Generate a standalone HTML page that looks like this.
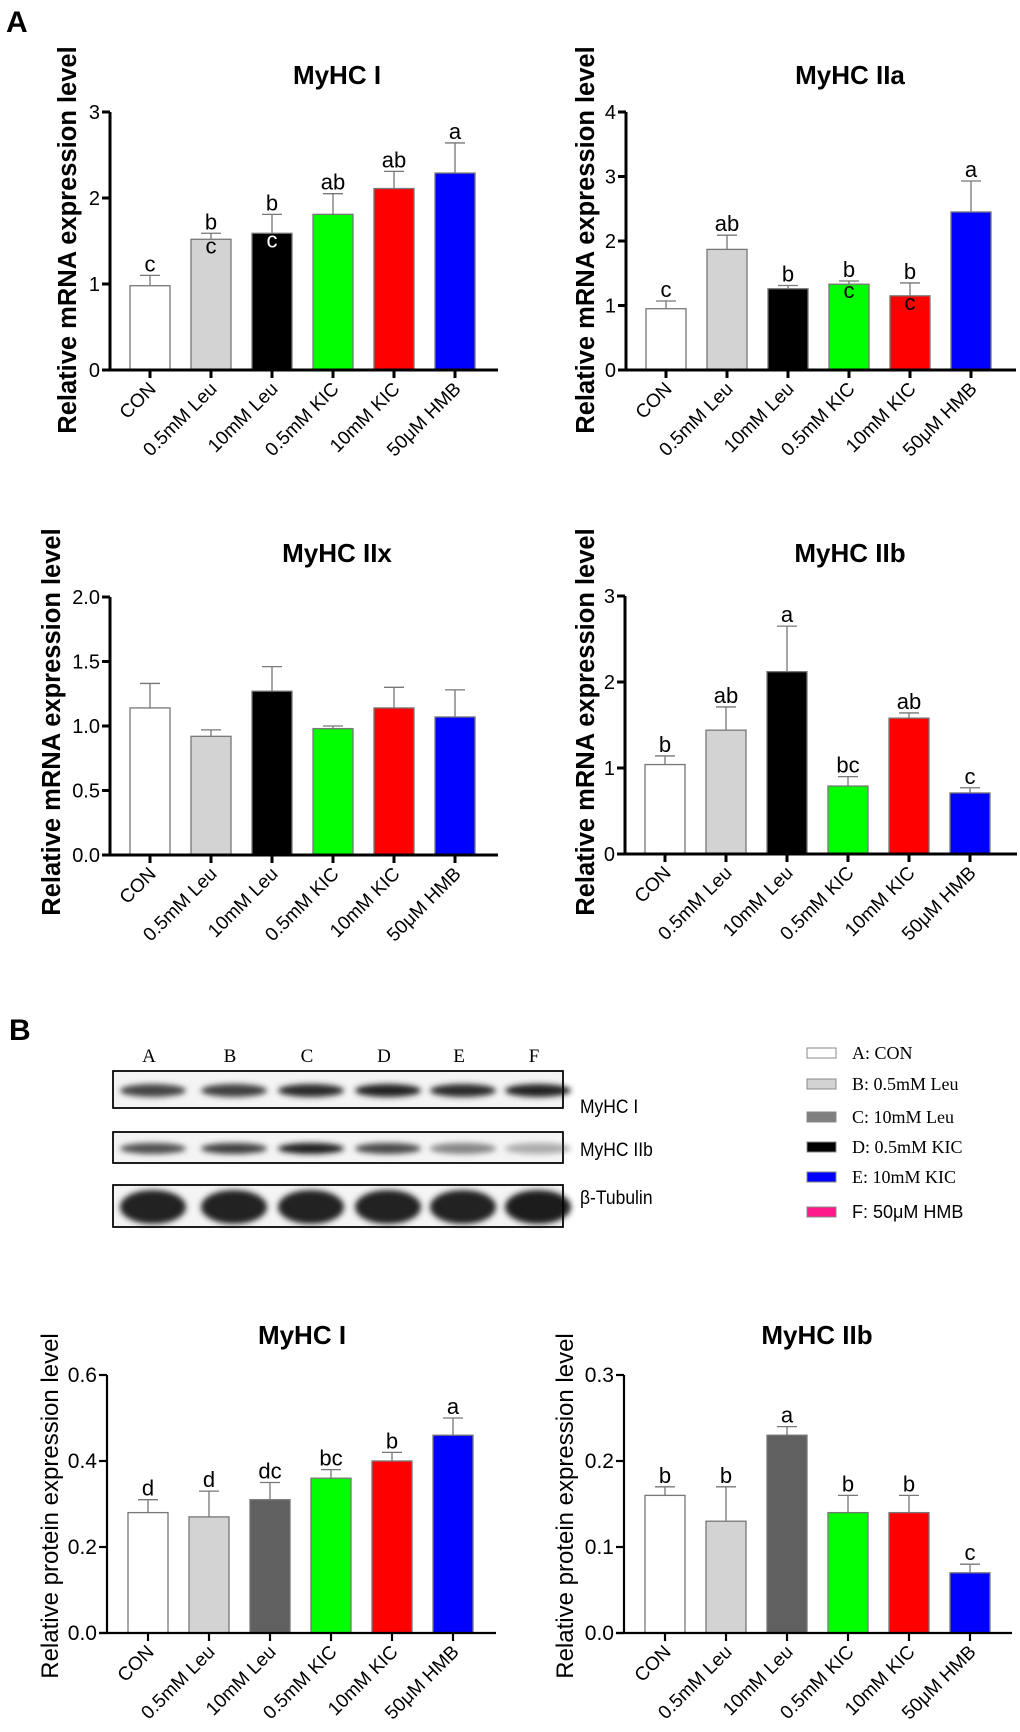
<!DOCTYPE html>
<html><head><meta charset="utf-8"><style>
html,body{margin:0;padding:0;background:#fff;}
svg{display:block;font-family:"Liberation Sans",Arial,sans-serif;}
</style></head><body>
<svg id="fig" width="1020" height="1732" viewBox="0 0 1020 1732" xmlns="http://www.w3.org/2000/svg">
<defs>
<filter id="blur" x="-30%" y="-60%" width="160%" height="220%"><feGaussianBlur stdDeviation="3"/></filter>
</defs>
<text x="6" y="32" font-size="30" font-weight="bold">A</text>
<text x="9" y="1040" font-size="30" font-weight="bold">B</text>
<g id="blot"></g>
<g id="legend"></g>
<g id="charts"></g>
</svg>
<script>
const categories = ["CON","0.5mM Leu","10mM Leu","0.5mM KIC","10mM KIC","50\u03bcM HMB"];
const colorsA = ["#ffffff","#d3d3d3","#000000","#00ff00","#ff0000","#0000ff"];
const colorsB = ["#ffffff","#d3d3d3","#606060","#00ff00","#ff0000","#0000ff"];

const myhc1Values = [0.98,1.52,1.59,1.81,2.11,2.29];
const myhc1Errors = [0.12,0.07,0.22,0.24,0.20,0.35];
const myhc1Letters = ["c","b","b","ab","ab","a"];
const myhc1Inner = ["","c","c","","",""];
const myhc1Ticks = [0,1,2,3];

const myhc2aValues = [0.95,1.87,1.26,1.33,1.15,2.45];
const myhc2aErrors = [0.12,0.22,0.05,0.05,0.20,0.48];
const myhc2aLetters = ["c","ab","b","b","b","a"];
const myhc2aInner = ["","","","c","c",""];
const myhc2aTicks = [0,1,2,3,4];

const myhc2xValues = [1.14,0.92,1.27,0.98,1.14,1.07];
const myhc2xErrors = [0.19,0.05,0.19,0.02,0.16,0.21];
const myhc2xLetters = ["","","","","",""];
const myhc2xTicks = [0,0.5,1.0,1.5,2.0];
const myhc2xTickLabels = ["0.0","0.5","1.0","1.5","2.0"];

const myhc2bValues = [1.04,1.44,2.12,0.79,1.58,0.71];
const myhc2bErrors = [0.10,0.27,0.53,0.11,0.06,0.06];
const myhc2bLetters = ["b","ab","a","bc","ab","c"];
const myhc2bTicks = [0,1,2,3];

const protIValues = [0.28,0.27,0.31,0.36,0.40,0.46];
const protIErrors = [0.03,0.06,0.04,0.02,0.02,0.04];
const protILetters = ["d","d","dc","bc","b","a"];
const protITicks = [0,0.2,0.4,0.6];
const protITickLabels = ["0.0","0.2","0.4","0.6"];

const protIIbValues = [0.16,0.13,0.23,0.14,0.14,0.07];
const protIIbErrors = [0.01,0.04,0.01,0.02,0.02,0.01];
const protIIbLetters = ["b","b","a","b","b","c"];
const protIIbTicks = [0,0.1,0.2,0.3];
const protIIbTickLabels = ["0.0","0.1","0.2","0.3"];

const laneLabels = ["A","B","C","D","E","F"];
const bandMyhcI = [0.7,0.72,0.82,0.85,0.82,0.86];
const bandMyhcIIb = [0.65,0.72,0.88,0.68,0.42,0.25];
const legendLabels = ["A: CON","B: 0.5mM Leu","C: 10mM Leu","D: 0.5mM KIC","E: 10mM KIC","F: 50\u03bcM HMB"];
const legendColors = ["#ffffff","#d3d3d3","#808080","#000000","#0000ff","#ff1a8c"];

const NS="http://www.w3.org/2000/svg";
function mk(tag,attrs,parent){const e=document.createElementNS(NS,tag);for(const k in attrs)e.setAttribute(k,attrs[k]);parent.appendChild(e);return e;}

function drawChart(cfg){
  const root=document.getElementById('charts');
  const g=mk('g',{},root);
  
  
  const max=cfg.ticks[cfg.ticks.length-1];
  const y=v=>cfg.y0-(v/max)*(cfg.y0-cfg.yTop);
  const x=i=>cfg.x0+cfg.first+i*cfg.step;
  const t=mk('text',{x:cfg.titleX,y:cfg.titleY,'font-size':26,'font-weight':'bold','text-anchor':'middle'},g);
  t.textContent=cfg.title;
  
  
  const yt=mk('text',{x:0,y:0,'font-size':cfg.ytSize,'font-weight':cfg.bold?'bold':'normal','text-anchor':'middle',transform:`translate(${cfg.ytX},${cfg.ytY}) rotate(-90)`},g);
  yt.textContent=cfg.ytitle;
  
  
  cfg.values.forEach((v,i)=>{
    const cx=x(i),top=y(v),bw=40;
    const eb=mk('g',{},g);
    
    
    const et=y(v+cfg.errors[i]);
    mk('line',{x1:cx,y1:top,x2:cx,y2:et,stroke:'#777','stroke-width':1.3},eb);
    mk('line',{x1:cx-10,y1:et,x2:cx+10,y2:et,stroke:'#777','stroke-width':1.3},eb);
    const r=mk('rect',{x:cx-bw/2,y:top,width:bw,height:cfg.y0-top,fill:cfg.colors[i],stroke:'#777','stroke-width':1.3},g);
    
    
    if(cfg.letters[i]){
      const l=mk('text',{x:cx,y:et-4,'font-size':22,'text-anchor':'middle'},g);
      l.textContent=cfg.letters[i];
      
      
    }
    if(cfg.inner&&cfg.inner[i]){
      const l=mk('text',{x:cx,y:top+14,'font-size':22,'text-anchor':'middle',fill:cfg.colors[i]==='#000000'?'#fff':'#000'},g);
      l.textContent=cfg.inner[i];
      
      
    }
    mk('line',{x1:cx,y1:cfg.y0,x2:cx,y2:cfg.y0+8,stroke:'#000','stroke-width':cfg.aw},g);
    const xl=mk('text',{x:0,y:0,'font-size':19,'text-anchor':'end',transform:`translate(${cx+7},${cfg.y0+20}) rotate(-45)`},g);
    xl.textContent=categories[i];
    
    
  });
  const ax=mk('line',{x1:cfg.x0,y1:cfg.yTop,x2:cfg.x0,y2:cfg.y0,stroke:'#000','stroke-width':cfg.aw},g);
  
  
  const xa=mk('line',{x1:cfg.x0-8,y1:cfg.y0,x2:cfg.xEnd,y2:cfg.y0,stroke:'#000','stroke-width':cfg.aw},g);
  
  
  cfg.ticks.forEach((tv,i)=>{
    mk('line',{x1:cfg.x0-8,y1:y(tv),x2:cfg.x0,y2:y(tv),stroke:'#000','stroke-width':cfg.aw},g);
    const tl=mk('text',{x:cfg.x0-10,y:y(tv)+7,'font-size':cfg.tickSize,'text-anchor':'end'},g);
    tl.textContent=cfg.tickLabels?cfg.tickLabels[i]:String(tv);
    
    
  });
}

const base={first:40,step:61,aw:3,bold:true,ytSize:25.5,tickSize:20,ytitle:"Relative mRNA expression level"};
drawChart(Object.assign({},base,{name:'chart-myhc-i-mrna',title:'MyHC I',x0:110,y0:370,yTop:112,xEnd:498,titleX:337,titleY:84,ytX:76,ytY:240,values:myhc1Values,errors:myhc1Errors,letters:myhc1Letters,inner:myhc1Inner,ticks:myhc1Ticks,colors:colorsA}));
drawChart(Object.assign({},base,{name:'chart-myhc-iia-mrna',title:'MyHC IIa',x0:626,y0:370,yTop:112,xEnd:1016,titleX:850,titleY:84,ytX:594,ytY:240,values:myhc2aValues,errors:myhc2aErrors,letters:myhc2aLetters,inner:myhc2aInner,ticks:myhc2aTicks,colors:colorsA}));
drawChart(Object.assign({},base,{name:'chart-myhc-iix-mrna',title:'MyHC IIx',x0:110,y0:855,yTop:597,xEnd:498,titleX:337,titleY:562,ytX:60,ytY:722,values:myhc2xValues,errors:myhc2xErrors,letters:myhc2xLetters,ticks:myhc2xTicks,tickLabels:myhc2xTickLabels,colors:colorsA}));
drawChart(Object.assign({},base,{name:'chart-myhc-iib-mrna',title:'MyHC IIb',x0:625,y0:854,yTop:596,xEnd:1017,titleX:850,titleY:562,ytX:594,ytY:722,values:myhc2bValues,errors:myhc2bErrors,letters:myhc2bLetters,ticks:myhc2bTicks,colors:colorsA}));
const baseP={first:41,step:61,aw:2.2,bold:false,ytSize:24,tickSize:21,ytitle:"Relative protein expression level"};
drawChart(Object.assign({},baseP,{name:'chart-myhc-i-protein',title:'MyHC I',x0:107,y0:1633,yTop:1375,xEnd:496,titleX:302,titleY:1344,ytX:58,ytY:1506,values:protIValues,errors:protIErrors,letters:protILetters,ticks:protITicks,tickLabels:protITickLabels,colors:colorsB}));
drawChart(Object.assign({},baseP,{name:'chart-myhc-iib-protein',title:'MyHC IIb',x0:624,y0:1633,yTop:1375,xEnd:1012,titleX:817,titleY:1344,ytX:573,ytY:1506,values:protIIbValues,errors:protIIbErrors,letters:protIIbLetters,ticks:protIIbTicks,tickLabels:protIIbTickLabels,colors:colorsB}));

(function(){
  const g=document.getElementById('blot');
  const laneX=[149,230,307,384,459,534];
  laneLabels.forEach((l,i)=>{
    const t=mk('text',{x:laneX[i],y:1062,'font-size':19,'font-family':'"Liberation Serif",serif','text-anchor':'middle'},g);
    t.textContent=l;
    
    
  });
  const boxes=[{y:1071,h:37,name:'MyHC I',ly:1113,bands:bandMyhcI,bh:13},{y:1132,h:31,name:'MyHC IIb',ly:1156,bands:bandMyhcIIb,bh:11},{y:1185,h:42,name:'\u03b2-Tubulin',ly:1204,bands:[0.85,0.85,0.85,0.85,0.85,0.87],bh:34}];
  boxes.forEach(b=>{
    const bg=mk('g',{},g);
    
    
    mk('rect',{x:113,y:b.y,width:450,height:b.h,fill:'#f4f4f4',stroke:'#000','stroke-width':1.5},bg);
    b.bands.forEach((v,i)=>{
      const c=Math.round(255*(1-v)*0.9);
      mk('ellipse',{cx:laneX[i]+4,cy:b.y+b.h/2+1,rx:33,ry:b.bh/2,fill:`rgb(${c},${c},${c})`,filter:'url(#blur)'},bg);
    });
    mk('rect',{x:113,y:b.y,width:450,height:b.h,fill:'none',stroke:'#000','stroke-width':1.5},bg);
    const t=mk('text',{x:580,y:b.ly,'font-size':19,transform:`translate(580,0) scale(0.92,1) translate(-580,0)`},g);
    t.textContent=b.name;
    
    
  });
  const lg=document.getElementById('legend');
  const ly=[1053,1084,1117,1147,1177,1212];
  legendLabels.forEach((l,i)=>{
    const e=mk('g',{},lg);
    
    
    mk('rect',{x:807,y:ly[i]-5,width:29,height:10,fill:legendColors[i],stroke:'#888','stroke-width':1},e);
    const t=mk('text',{x:852,y:ly[i]+6,'font-size':18,'font-family':i===5?'"Liberation Sans",sans-serif':'"Liberation Serif",serif'},e);
    t.textContent=l;
  });
})();
</script>
</body></html>
